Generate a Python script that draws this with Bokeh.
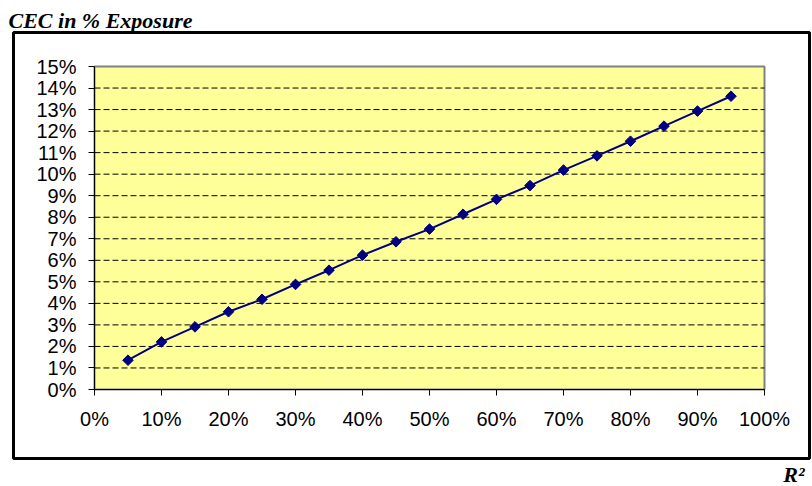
import math
from bokeh.plotting import figure
from bokeh.models import (Label, BoxAnnotation, NumeralTickFormatter, FixedTicker,
                          Range1d, ColumnDataSource)
from bokeh.embed import file_html
from bokeh.resources import INLINE

# data
r2 = [0.05, 0.10, 0.15, 0.20, 0.25, 0.30, 0.35, 0.40, 0.45, 0.50,
      0.55, 0.60, 0.65, 0.70, 0.75, 0.80, 0.85, 0.90, 0.95]
cec = [0.0136, 0.0221, 0.0291, 0.0361, 0.0419, 0.0488, 0.0554, 0.0624, 0.0686, 0.0745,
       0.0814, 0.0883, 0.0947, 0.1019, 0.1085, 0.1153, 0.1223, 0.1293, 0.1362]
x_ticks = [0, 0.1, 0.2, 0.3, 0.4, 0.5, 0.6, 0.7, 0.8, 0.9, 1.0]
y_ticks = [i / 100 for i in range(0, 16)]
title_text = "CEC in % Exposure"
x_title = "R²"

W, H = 812, 486
# pixel positions of the plot area inside the canvas (layout only)
PL, PR, PT, PB = 94, 764, 66, 389
X0, X1, Y0, Y1 = 0.0, 1.0, 0.0, 0.15

def dx(px):
    return X0 + (px - PL) / (PR - PL) * (X1 - X0)

def dy(py):
    return Y0 + (PB - py) / (PB - PT) * (Y1 - Y0)

p = figure(width=W, height=H, output_backend="svg", toolbar_location=None,
           x_range=Range1d(dx(0), dx(W)), y_range=Range1d(dy(H), dy(0)),
           min_border_left=0, min_border_right=0, min_border_top=0, min_border_bottom=0)
p.background_fill_color = "white"
p.border_fill_color = "white"
p.outline_line_color = None
p.grid.grid_line_color = None

# plot area
p.quad(left=[X0], right=[X1], bottom=[Y0], top=[Y1], fill_color="#FFFF99",
       line_color="#808080", line_width=2)

# dashed gridlines at the y ticks
grid_y = [t for t in y_ticks if Y0 < t < Y1]
p.segment(x0=[X0] * len(grid_y), x1=[X1] * len(grid_y), y0=grid_y, y1=grid_y,
          line_color="black", line_dash="6 3", line_width=1)

for ax in (p.xaxis, p.yaxis):
    ax.fixed_location = 0
    ax.axis_line_color = "black"
    ax.axis_line_width = 1
    ax.major_tick_line_color = "black"
    ax.major_tick_out = 6
    ax.major_tick_in = 0
    ax.minor_tick_line_color = None
    ax.major_label_text_font = "Liberation Sans"
    ax.major_label_text_font_size = "20px"
    ax.major_label_text_color = "black"
    ax.major_label_standoff = 12
    ax.formatter = NumeralTickFormatter(format="0%")

p.xaxis.ticker = FixedTicker(ticks=x_ticks)
p.yaxis.ticker = FixedTicker(ticks=y_ticks)
p.xaxis.bounds = (X0, X1)
p.yaxis.bounds = (Y0, Y1)

src = ColumnDataSource(dict(x=r2, y=cec))
p.line("x", "y", source=src, line_color="#000080", line_width=2)
p.scatter("x", "y", source=src, marker="square", angle=math.pi / 4, size=7.5,
          fill_color="#000080", line_color="#000080")

# outer chart box
p.add_layout(BoxAnnotation(left=dx(13), right=dx(809), top=dy(32), bottom=dy(458),
                           fill_color=None, fill_alpha=0, line_color="black",
                           line_width=3, line_alpha=1, level="overlay"))

p.add_layout(Label(x=dx(8), y=dy(20), text=title_text,
                   text_font="Liberation Serif", text_font_style="bold italic",
                   text_font_size="22px", text_color="black", text_baseline="alphabetic"))
p.add_layout(Label(x=dx(804), y=dy(474), text=x_title,
                   text_font="Liberation Serif", text_font_style="bold italic",
                   text_font_size="22px", text_color="black", text_align="right",
                   text_baseline="alphabetic"))

open("out.html", "w").write(file_html(p, INLINE))
